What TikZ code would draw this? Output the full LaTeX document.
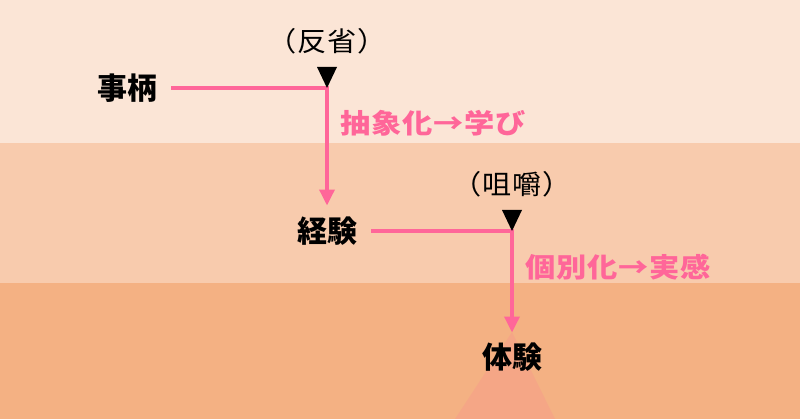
\documentclass[tikz,border=0pt]{standalone}
\usepackage{fontspec}
\setmainfont{Noto Sans CJK JP}
\usetikzlibrary{arrows.meta,positioning}
\definecolor{peachtop}{HTML}{FBE5D6}
\definecolor{peachmid}{HTML}{F8CBAD}
\definecolor{peachbot}{HTML}{F4B183}
\definecolor{rosy}{RGB}{255,102,153}
\tikzset{
  word/.style    = {font=\fontsize{30}{32}\selectfont\bfseries, text=black, inner sep=0pt},
  note/.style    = {font=\fontsize{27}{29}\selectfont\addfontfeature{FakeStretch=1.08,LetterSpace=4}, text=black, inner sep=0pt},
  gist/.style    = {font=\fontsize{27}{29}\selectfont\bfseries\addfontfeature{FakeStretch=1.12,LetterSpace=3}, text=rosy, anchor=west, inner sep=0pt},
  link/.style    = {draw=rosy, line width=3.5pt, line join=miter},
  flow/.style    = {link, -{Triangle[length=16pt,width=15pt]}},
  pointer/.style = {fill=black},
}

\begin{document}
\begin{tikzpicture}[x=1pt, y=-1pt]
% background bands
\fill[peachtop] (0,0) rectangle (800,143);
\fill[peachmid] (0,143) rectangle (800,283);
\fill[peachbot] (0,283) rectangle (800,419);
\useasboundingbox (0,0) rectangle (800,419);

% faint cone under the last word
\fill[rosy, opacity=.14] (512,332) -- (455,419) -- (555,419) -- cycle;

% words
\node[word] (jigara) at (127,88) {事柄};
\node[word] (keiken) at (327,231) {経験};
\node[word] (taiken) at (512,357) {体験};

\coordinate (bend1) at (keiken |- jigara);
\coordinate (bend2) at (taiken |- keiken);

% connectors
\draw[flow] ([xshift=14pt]jigara.east) -- (bend1) -- ([yshift=11pt]keiken.north);
\draw[flow] ([xshift=14pt]keiken.east) -- (bend2) -- ([yshift=10pt]taiken.north);

% markers and notes
\fill[pointer] (bend1) -- ++(-10,-21) -- ++(20,0) -- cycle;
\fill[pointer] (bend2) -- ++(-10,-21) -- ++(20,0) -- cycle;
\node[note, above=34pt of bend1] (hansei) {（反省）};
\node[note, above=34pt of bend2] (soshaku) {（咀嚼）};

% step labels
\node[gist] (lesson) at (340,123) {抽象化→学び};
\node[gist] (sense) at (525,267) {個別化→実感};
\end{tikzpicture}
\end{document}
